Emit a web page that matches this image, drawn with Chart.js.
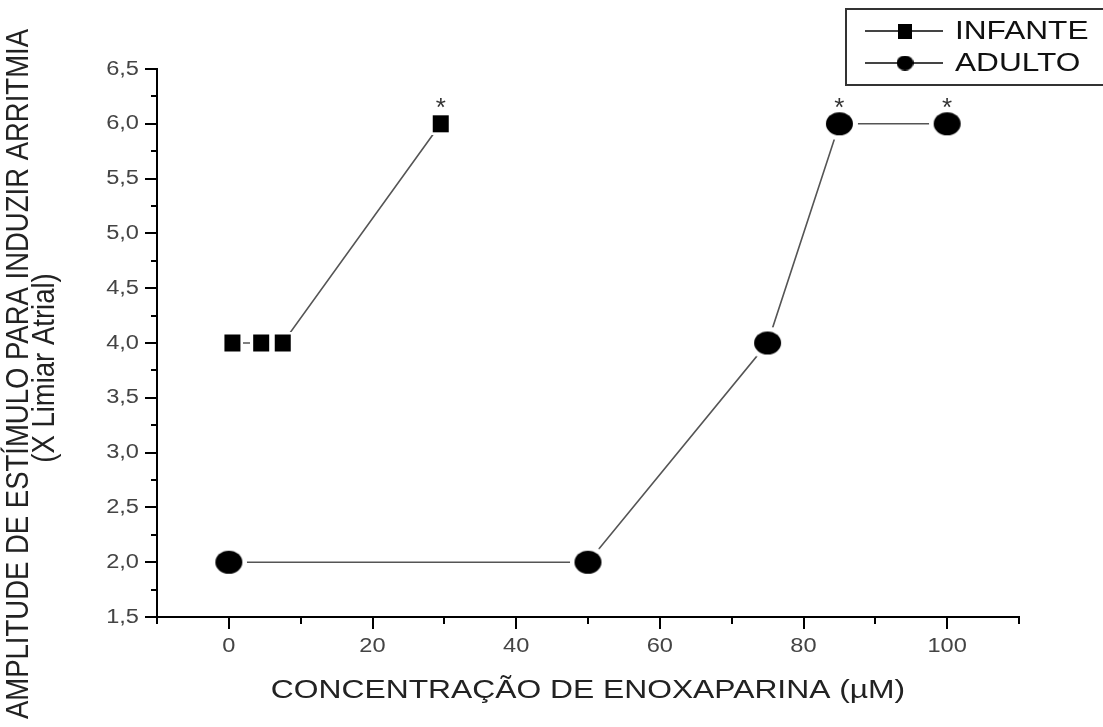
<!DOCTYPE html>
<html>
<head>
<meta charset="utf-8">
<script src="https://cdn.jsdelivr.net/npm/chart.js@4.4.1/dist/chart.umd.min.js"></script>
<style>
  html, body { margin: 0; padding: 0; background: #fff; }
  #wrap { width: 1103px; height: 727px; }
</style>
</head>
<body>
<div id="wrap"><canvas id="c" width="1103" height="727"></canvas></div>
<script>
// ---- data ----
const seriesNames = ['INFANTE', 'ADULTO'];
const infanteX = [0.5, 4.5, 7.5, 29.5];
const infanteY = [4.0, 4.0, 4.0, 6.0];
const infanteSig = [false, false, false, true];
const adultoX = [0, 50, 75, 85, 100];
const adultoY = [2.0, 2.0, 4.0, 6.0, 6.0];
const adultoSig = [false, false, false, true, true];

const xTickValues = [0, 20, 40, 60, 80, 100];
const xTickLabels = ['0', '20', '40', '60', '80', '100'];
const yTickValues = [1.5, 2.0, 2.5, 3.0, 3.5, 4.0, 4.5, 5.0, 5.5, 6.0, 6.5];
const yTickLabels = ['1,5', '2,0', '2,5', '3,0', '3,5', '4,0', '4,5', '5,0', '5,5', '6,0', '6,5'];

const xTitle = 'CONCENTRAÇÃO DE ENOXAPARINA (µM)';
const yTitleLines = ['AMPLITUDE DE ESTÍMULO PARA INDUZIR ARRITMIA', '(X Limiar Atrial)'];

// ---- marker images ----
function ellipseMarker(rx, ry, halo) {
  const c = document.createElement('canvas');
  c.width = Math.ceil(2 * (rx + halo));
  c.height = Math.ceil(2 * (ry + halo));
  const g = c.getContext('2d');
  const cx = c.width / 2, cy = c.height / 2;
  if (halo > 0) {
    g.fillStyle = '#fff';
    g.beginPath(); g.ellipse(cx, cy, rx + halo, ry + halo, 0, 0, Math.PI * 2); g.fill();
  }
  g.fillStyle = '#000';
  g.beginPath(); g.ellipse(cx, cy, rx, ry, 0, 0, Math.PI * 2); g.fill();
  return c;
}
function rectMarker(w, h, halo) {
  const c = document.createElement('canvas');
  c.width = Math.ceil(w + 2 * halo);
  c.height = Math.ceil(h + 2 * halo);
  const g = c.getContext('2d');
  if (halo > 0) { g.fillStyle = '#fff'; g.fillRect(0, 0, c.width, c.height); }
  g.fillStyle = '#000';
  g.fillRect(halo, halo, w, h);
  return c;
}
const squareImg = rectMarker(16, 17, 3);
const circleImg = ellipseMarker(13.5, 11.5, 5);
const squareLeg = rectMarker(14, 15, 0);
const circleLeg = ellipseMarker(8.5, 7.5, 0);

const STRETCH = 1.18;
function stretchedText(ctx, text, x, y, font, color, align, baseline, sx) {
  ctx.save();
  ctx.translate(x, y);
  ctx.scale(sx || STRETCH, 1);
  ctx.font = font;
  ctx.fillStyle = color;
  ctx.textAlign = align;
  ctx.textBaseline = baseline;
  ctx.fillText(text, 0, 0);
  ctx.restore();
}

const decorPlugin = {
  id: 'decor',
  beforeDraw(chart) {
    const ctx = chart.ctx;
    ctx.save();
    ctx.fillStyle = '#fff';
    ctx.fillRect(0, 0, chart.width, chart.height);
    ctx.restore();
  },
  afterDraw(chart) {
    const ctx = chart.ctx;
    const xs = chart.scales.x, ys = chart.scales.y;
    const area = chart.chartArea;
    ctx.save();
    ctx.strokeStyle = '#000';
    ctx.lineWidth = 2;
    // x ticks (major labelled every 20, minor every 10)
    xs.ticks.forEach(t => {
      const px = Math.round(xs.getPixelForValue(t.value));
      const major = xTickValues.includes(t.value);
      ctx.beginPath();
      ctx.moveTo(px, area.bottom);
      ctx.lineTo(px, area.bottom + (major ? 12 : 7));
      ctx.stroke();
    });
    ys.ticks.forEach(t => {
      const py = Math.round(ys.getPixelForValue(t.value));
      const major = yTickValues.some(v => Math.abs(v - t.value) < 1e-6);
      ctx.beginPath();
      ctx.moveTo(area.left, py);
      ctx.lineTo(area.left - (major ? 12 : 6), py);
      ctx.stroke();
    });
    ctx.restore();

    const tickFont = '20px "Liberation Sans", Arial, sans-serif';
    xTickValues.forEach((v, i) => {
      stretchedText(ctx, xTickLabels[i], xs.getPixelForValue(v), area.bottom + 29, tickFont, '#444', 'center', 'middle');
    });
    yTickValues.forEach((v, i) => {
      stretchedText(ctx, yTickLabels[i], area.left - 18, ys.getPixelForValue(v), tickFont, '#444', 'right', 'middle');
    });

    // axis titles
    stretchedText(ctx, xTitle, (area.left + area.right) / 2, area.bottom + 74,
      '26.5px "Liberation Sans", Arial, sans-serif', '#222', 'center', 'middle', 1.2);

    const yFont = '27.5px "Liberation Sans", Arial, sans-serif';
    const yBase = [[28, 374], [54, 368]];
    yTitleLines.forEach((line, i) => {
      ctx.save();
      ctx.translate(yBase[i][0], yBase[i][1]);
      ctx.rotate(-Math.PI / 2);
      ctx.scale(1, 1.12);
      ctx.font = yFont;
      ctx.fillStyle = '#222';
      ctx.textAlign = 'center';
      ctx.textBaseline = 'alphabetic';
      ctx.fillText(line, 0, 0);
      ctx.restore();
    });

    // significance asterisks
    const astFont = '26px "Liberation Sans", Arial, sans-serif';
    const drawSig = (xsArr, ysArr, sig) => {
      xsArr.forEach((xv, i) => {
        if (!sig[i]) return;
        const px = xs.getPixelForValue(xv), py = ys.getPixelForValue(ysArr[i]);
        stretchedText(ctx, '*', px, py - 8, astFont, '#333', 'center', 'alphabetic', 1);
      });
    };
    drawSig(infanteX, infanteY, infanteSig);
    drawSig(adultoX, adultoY, adultoSig);

    // legend
    ctx.save();
    ctx.strokeStyle = '#333';
    ctx.lineWidth = 2;
    ctx.strokeRect(846, 9, 262, 76);
    const rows = [{ y: 31, img: squareLeg }, { y: 63, img: circleLeg }];
    rows.forEach((r, i) => {
      ctx.strokeStyle = '#444';
      ctx.lineWidth = 2;
      ctx.beginPath(); ctx.moveTo(865, r.y); ctx.lineTo(943, r.y); ctx.stroke();
      ctx.drawImage(r.img, 905 - r.img.width / 2, r.y - r.img.height / 2);
      stretchedText(ctx, seriesNames[i], 955, r.y + 1, '25.5px "Liberation Sans", Arial, sans-serif', '#111', 'left', 'middle', 1.24);
    });
    ctx.restore();
  }
};

const toPoints = (xa, ya) => xa.map((x, i) => ({ x: x, y: ya[i] }));

new Chart(document.getElementById('c'), {
  type: 'line',
  data: {
    datasets: [
      {
        label: seriesNames[0],
        data: toPoints(infanteX, infanteY),
        borderColor: '#555',
        borderWidth: 1.6,
        pointStyle: squareImg,
        pointRadius: 11,
        pointHoverRadius: 11,
        tension: 0,
        fill: false
      },
      {
        label: seriesNames[1],
        data: toPoints(adultoX, adultoY),
        borderColor: '#555',
        borderWidth: 1.6,
        pointStyle: circleImg,
        pointRadius: 14,
        pointHoverRadius: 14,
        tension: 0,
        fill: false
      }
    ]
  },
  options: {
    responsive: false,
    animation: false,
    events: [],
    layout: { padding: { left: 157, right: 84, top: 69, bottom: 110 } },
    plugins: { legend: { display: false }, tooltip: { enabled: false } },
    scales: {
      x: {
        type: 'linear', min: -10, max: 110,
        ticks: { display: false, stepSize: 10 },
        grid: { display: false, drawTicks: false },
        border: { display: true, color: '#000', width: 2 }
      },
      y: {
        type: 'linear', min: 1.5, max: 6.5,
        ticks: { display: false, stepSize: 0.25 },
        grid: { display: false, drawTicks: false },
        border: { display: true, color: '#000', width: 2 }
      }
    }
  },
  plugins: [decorPlugin]
});
</script>
</body>
</html>
